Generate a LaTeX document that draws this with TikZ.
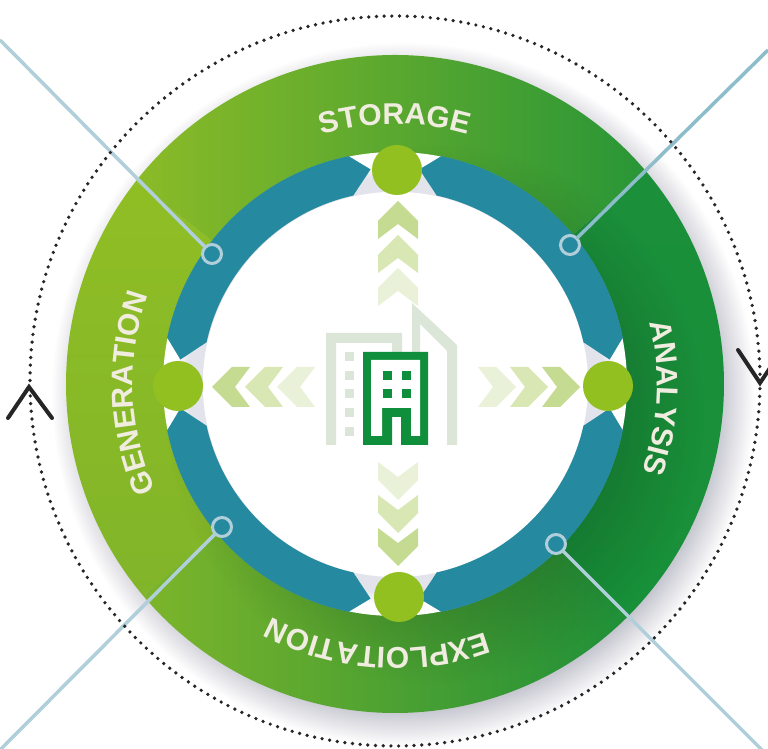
\documentclass[tikz,border=0pt]{standalone}
\usepackage{fontspec}
\setmainfont{Liberation Sans}
\usetikzlibrary{decorations.text,fadings}
\definecolor{teal1}{HTML}{25899F}
\definecolor{lime1}{HTML}{92C020}
\definecolor{lineblue}{HTML}{B0CFDA}
\definecolor{dkgreen}{HTML}{0F8F3C}
\definecolor{pale}{HTML}{DCE6D8}
\definecolor{lilac}{HTML}{C4C4CE}
\definecolor{gaplilac}{HTML}{E3E3EC}
\definecolor{ringlabel}{HTML}{F0ECE0}
\definecolor{chevA}{HTML}{C5DB92}
\definecolor{chevB}{HTML}{D9E7B5}
\definecolor{chevC}{HTML}{EAF1D9}
\definecolor{stoL}{HTML}{8CBB27}
\definecolor{stoR}{HTML}{289537}
\definecolor{genT}{HTML}{90BE24}
\definecolor{genB}{HTML}{80B42A}
\definecolor{anaT}{HTML}{1B8F3A}
\definecolor{anaB}{HTML}{189039}
\definecolor{expL}{HTML}{7DB52B}
\definecolor{expR}{HTML}{1F8F38}
\pgfdeclareradialshading{ringshadow}{\pgfpointorigin}{color(0bp)=(lilac);color(22.4bp)=(lilac);color(25bp)=(white);color(50bp)=(white)}
\pgfdeclareradialshading{gapshade}{\pgfpointorigin}{color(0bp)=(white);color(20.7bp)=(white);color(20.8bp)=(gaplilac);color(22.4bp)=(gaplilac);color(23.8bp)=(white);color(25bp)=(white);color(50bp)=(white)}
\pgfdeclareradialshading{innerdarkshade}{\pgfpointorigin}{color(0bp)=(pgftransparent!84);color(16bp)=(pgftransparent!84);color(25bp)=(pgftransparent!100);color(50bp)=(pgftransparent!100)}
\pgfdeclarefading{innerdark}{\pgfuseshading{innerdarkshade}}
\tikzset{
 dotring/.style={draw=black!85,line width=3.7pt,line cap=round,dash pattern=on 0pt off 7.7pt},
 hub/.style={circle,fill=lime1,minimum size=50pt,inner sep=0pt,outer sep=0pt},
 joint/.style={circle,fill=teal1,draw=lineblue,line width=3pt,minimum size=19pt,inner sep=0pt,outer sep=0pt},
 spoke/.style={lineblue,line width=3.5pt},
 caret/.style={black!85,line width=4pt,line cap=round,line join=miter},
 tealseg/.style={fill=teal1},
 paleb/.style={fill=pale},
 bld/.style={fill=dkgreen},
 ringtext/.style={decorate,decoration={text along path,text align=center,text={|\bfseries\fontsize{30}{30}\selectfont\color{ringlabel}|#1}}}
}
\newcommand{\chevron}[4]{\fill[#4,shift={(#1,#2)},rotate=#3] (0,0) -- (-20,20) -- (-38,20) -- (-23,0) -- (-38,-20) -- (-20,-20) -- cycle;}
\newcommand{\greensector}[5]{%
 \begin{scope}
 \clip (#1:329) arc[start angle=#1,end angle=#2,radius=329] -- (#2:229) arc[start angle=#2,end angle=#1,radius=229] -- cycle;
 \shade[#3] (#4) rectangle (#5);
 \end{scope}}
\newcommand{\tealsegment}[2]{\path[tealseg] ({#1+11.5}:232.5) arc[start angle={#1+11.5},end angle={#2-11.5},radius=232.5] -- ({#2-6.5}:216) -- ({#2-12.5}:193) arc[start angle={#2-12.5},end angle={#1+12.5},radius=193] -- ({#1+6.5}:216) -- cycle;}
\newcommand{\labelarc}[4]{\path[ringtext={#1}] ({#2+#4}:#3) arc[start angle={#2+#4},end angle={#2-#4},radius=#3];}
\begin{document}
\begin{tikzpicture}[x=1pt,y=1pt]
\useasboundingbox (0,0) rectangle (768,749);
\clip (0,0) rectangle (768,749);
\fill[white] (0,0) rectangle (768,749);
% ---- ring, y up, origin at ring centre
\begin{scope}[shift={(395,365)}]
 \shade[shading=ringshadow] (8,-10) circle (352);
 \greensector{40}{142}{left color=stoL,right color=stoR}{-262,0}{256,340}
 \greensector{142}{220}{top color=genT,bottom color=genB}{-340,-240}{-100,215}
 \greensector{-45}{40}{top color=anaT,bottom color=anaB}{100,-240}{340,215}
 \greensector{220}{315}{left color=expL,right color=expR}{-254,-340}{233,0}
 \begin{scope}
  \clip (0,0) circle (329);
  \fill[black,path fading=innerdark] (40,-30) circle (270);
 \end{scope}
 \shade[shading=gapshade] (0,0) circle (232);
 \tealsegment{0}{90}
 \tealsegment{90}{180}
 \tealsegment{180}{270}
 \tealsegment{270}{360}
 \fill[white] (0,0) circle (192);
 \labelarc{STORAGE}{90}{260}{60}
 \labelarc{GENERATION}{182}{262}{60}
 \labelarc{ANALYSIS}{-3}{262}{60}
 \labelarc{EXPLOITATION}{266}{264}{60}
\end{scope}
% ---- everything else, image pixel coordinates
\begin{scope}[shift={(0,749)},y=-1pt]
 \node[joint] (jtl) at (212,254) {};
 \node[joint] (jtr) at (570,245) {};
 \node[joint] (jbl) at (222,527) {};
 \node[joint] (jbr) at (556,544) {};
 \coordinate (etl) at (0,40);
 \coordinate (etr) at (768,50);
 \coordinate (ebl) at (0,750);
 \coordinate (ebr) at (768,756);
 \draw[spoke] (jtl) -- (etl);
 \draw[spoke,draw=lineblue!75!teal1] (jtr) -- (etr);
 \draw[spoke] (jbl) -- (ebl);
 \draw[spoke] (jbr) -- (ebr);
 \draw[dotring] (395,381) circle (365);
 \draw[caret] (8,418) -- (29,387) -- (52,418);
 \draw[caret] (738,350) -- (760,383) -- (782,350);
 \node[hub] (htop) at (397,170) {};
 \node[hub] (hright) at (608,386) {};
 \node[hub] (hbottom) at (399,597) {};
 \node[hub] (hleft) at (178,386) {};
 % chevrons
 \chevron{212}{387}{180}{chevA}
 \chevron{245}{387}{180}{chevB}
 \chevron{277}{387}{180}{chevC}
 \chevron{580}{387}{0}{chevA}
 \chevron{548}{387}{0}{chevB}
 \chevron{516}{387}{0}{chevC}
 \chevron{398}{201}{90}{chevA}
 \chevron{398}{235}{90}{chevB}
 \chevron{398}{268}{90}{chevC}
 \chevron{398}{566}{-90}{chevA}
 \chevron{398}{533}{-90}{chevB}
 \chevron{398}{500}{-90}{chevC}
 % pale buildings
 \fill[paleb] (326,445) -- (326,333) -- (402,333) -- (402,352) -- (392,352) -- (392,343) -- (336,343) -- (336,445) -- cycle;
 \fill[paleb] (412,352) -- (412,303) -- (457,345) -- (457,445) -- (447,445) -- (447,351) -- (420,324) -- (420,352) -- cycle;
 \foreach \wy in {352,371,389,408,427}{\fill[paleb] (345,\wy) rectangle (354,\wy+9);}
 % green building
 \fill[bld] (363,445) -- (363,352) -- (428,352) -- (428,445) -- (401,445) -- (401,417) -- (392,417) -- (392,445) -- cycle;
 \fill[white] (371,360) -- (420,360) -- (420,436) -- (411,436) -- (411,408) -- (382,408) -- (382,436) -- (371,436) -- cycle;
 \foreach \wx in {383,402}{\foreach \wy in {371,389}{\fill[bld] (\wx,\wy) rectangle (\wx+9,\wy+9);}}
\end{scope}
\end{tikzpicture}
\end{document}
